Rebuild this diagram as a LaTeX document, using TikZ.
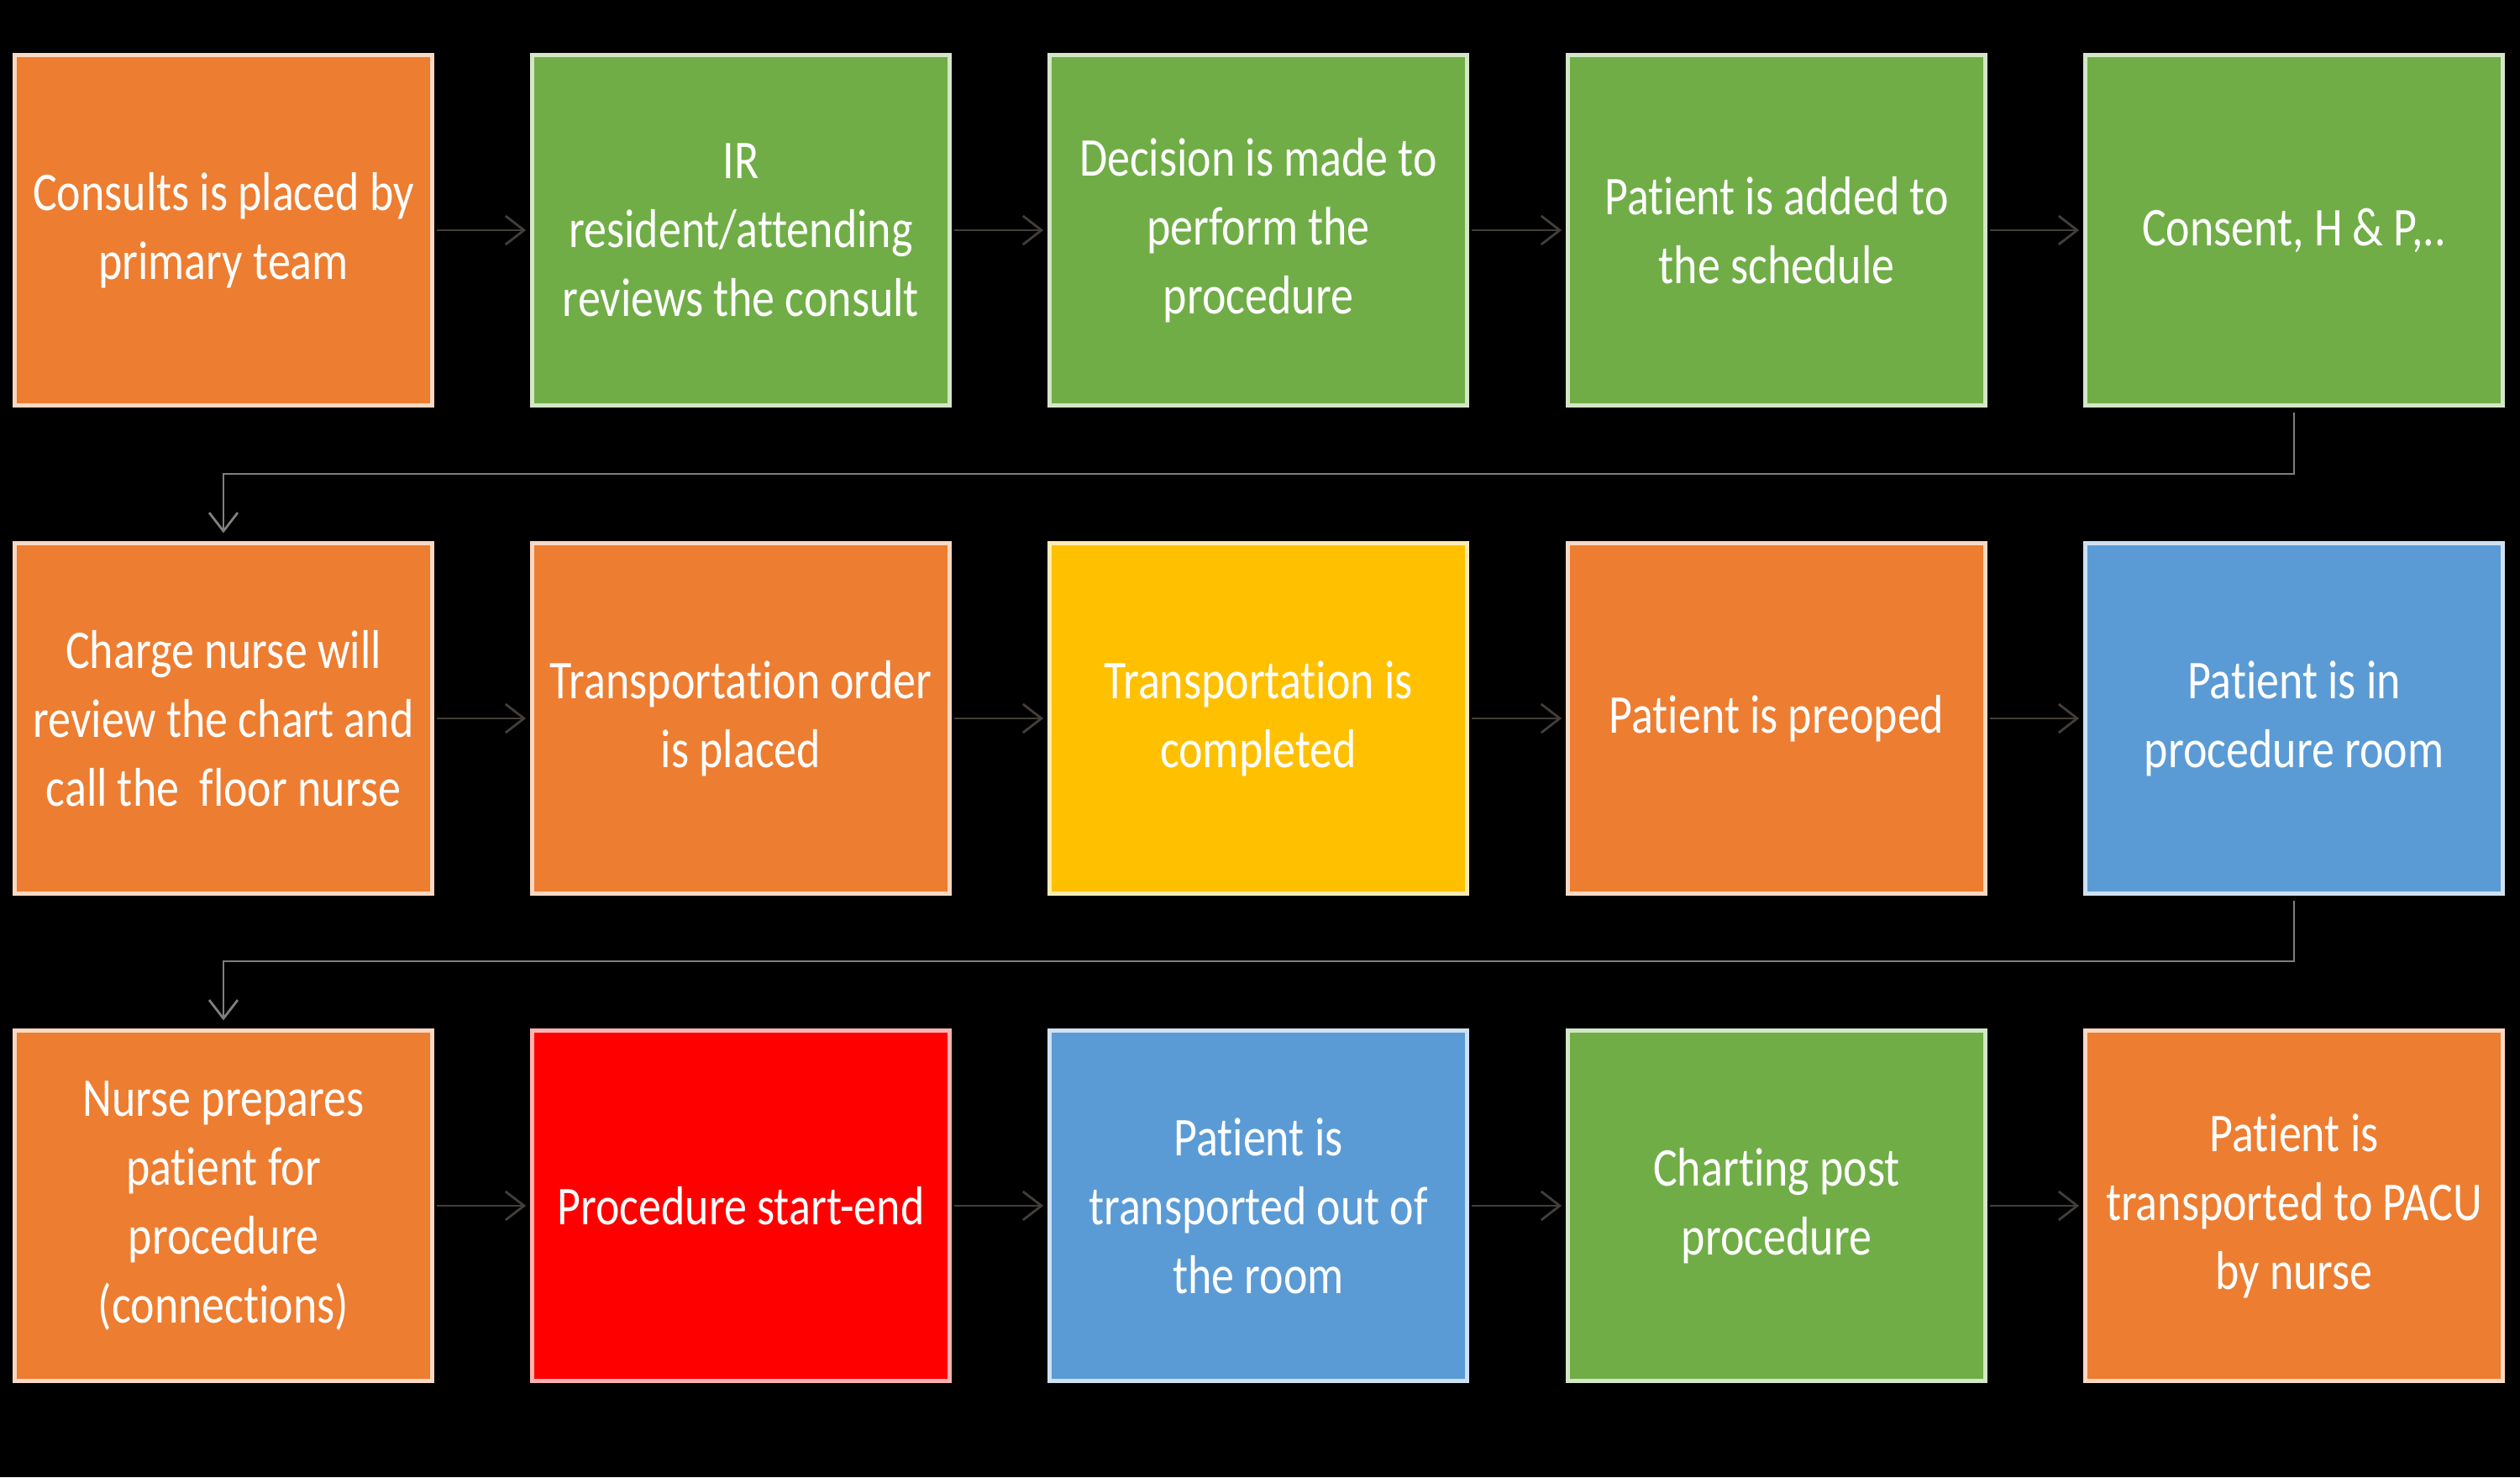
\documentclass[tikz,border=0pt]{standalone}
\usepackage{fontspec}
\setmainfont{Carlito}[FakeStretch=0.83, Ligatures=NoCommon]
\usetikzlibrary{arrows.meta}
\definecolor{pporange}{HTML}{ED7D31}
\definecolor{ppgreen}{HTML}{70AD47}
\definecolor{ppblue}{HTML}{5B9BD5}
\definecolor{ppyellow}{HTML}{FFC000}
\definecolor{ppred}{HTML}{FF0000}
\definecolor{arrowgray}{HTML}{433E39}
\definecolor{linegray}{HTML}{7F7F7F}
\begin{document}
\begin{tikzpicture}[
  stage/.style={fill=#1, draw=#1!30!white, line width=1.2pt,
    minimum width=4.97cm, minimum height=4.17cm, inner sep=0pt,
    align=center, text=white, font=\fontsize{18.5}{23.3}\selectfont},
  flow/.style={draw=arrowgray, line width=0.8pt, -{Straight Barb[length=0.22cm,width=0.34cm]},
    shorten <=1pt, shorten >=1.5pt},
  turn/.style={draw=linegray, line width=0.8pt, -{Straight Barb[length=0.22cm,width=0.34cm]}}
]
\fill[black] (0,0) rectangle (30,17.58);
\useasboundingbox (0,0) rectangle (30,17.58);

% row 1
\node[stage=pporange] (consult)  at (2.66,14.84) {Consults is placed by\\primary team};
\node[stage=ppgreen]  (review)   at (8.82,14.84) {IR\\resident/attending\\reviews the consult};
\node[stage=ppgreen]  (decision) at (14.98,14.84) {Decision is made to\\perform the\\procedure};
\node[stage=ppgreen]  (schedule) at (21.15,14.84) {Patient is added to\\the schedule};
\node[stage=ppgreen]  (consent)  at (27.31,14.84) {Consent, H \& P,..};

% row 2
\node[stage=pporange] (charge)    at (2.66,9.03) {Charge nurse will\\review the chart and\\call the \ floor nurse};
\node[stage=pporange] (order)     at (8.82,9.03) {Transportation order\\is placed};
\node[stage=ppyellow] (transport) at (14.98,9.03) {Transportation is\\completed};
\node[stage=pporange] (preop)     at (21.15,9.03) {Patient is preoped};
\node[stage=ppblue]   (inroom)    at (27.31,9.03) {Patient is in\\procedure room};

% row 3
\node[stage=pporange] (prepare)  at (2.66,3.23) {Nurse prepares\\patient for\\procedure\\(connections)};
\node[stage=ppred]    (proc)     at (8.82,3.23) {Procedure start-end};
\node[stage=ppblue]   (outroom)  at (14.98,3.23) {Patient is\\transported out of\\the room};
\node[stage=ppgreen]  (charting) at (21.15,3.23) {Charting post\\procedure};
\node[stage=pporange] (pacu)     at (27.31,3.23) {Patient is\\transported to PACU\\by nurse};

% bends of the row-to-row lines
\coordinate (bend1) at (2.66,11.94);
\coordinate (bend2) at (2.66,6.14);

\draw[flow] (consult) -- (review);
\draw[flow] (review) -- (decision);
\draw[flow] (decision) -- (schedule);
\draw[flow] (schedule) -- (consent);

\draw[flow] (charge) -- (order);
\draw[flow] (order) -- (transport);
\draw[flow] (transport) -- (preop);
\draw[flow] (preop) -- (inroom);

\draw[flow] (prepare) -- (proc);
\draw[flow] (proc) -- (outroom);
\draw[flow] (outroom) -- (charting);
\draw[flow] (charting) -- (pacu);

% wrap to next row
\draw[turn, shorten <=0.06cm, shorten >=0.1cm] (consent.south) |- (bend1) -- (charge.north);
\draw[turn, shorten <=0.06cm, shorten >=0.1cm] (inroom.south) |- (bend2) -- (prepare.north);
\end{tikzpicture}
\end{document}
